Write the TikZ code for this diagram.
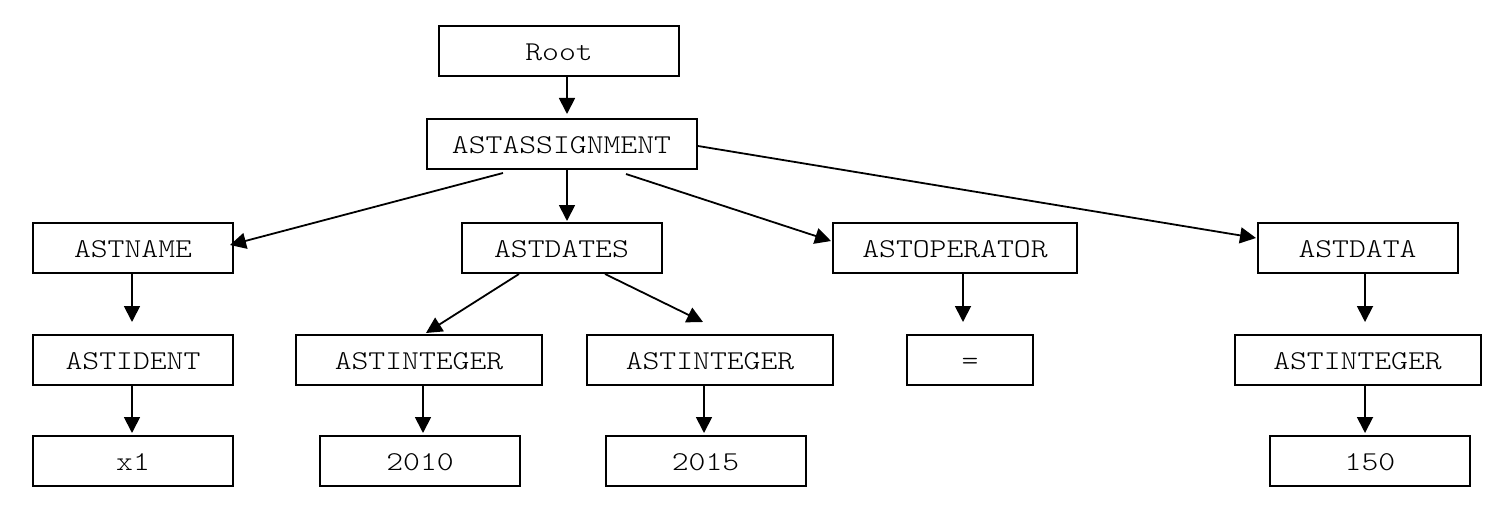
\documentclass[tikz,border=0pt]{standalone}
\usepackage{fontspec}
\newfontfamily\astfont[FakeStretch=1.18]{lmmonolt10-regular.otf}
\usetikzlibrary{arrows.meta,calc}
\begin{document}
\begin{tikzpicture}[x=0.5pt,y=-0.5pt,
    astbox/.style={draw,line width=1pt,minimum height=25pt,inner sep=0pt,
      text height=9.6pt,text depth=0pt,
      font=\astfont\fontsize{13.6}{16}\selectfont},
    edge/.style={line width=0.9pt,-{Triangle[length=8pt,width=8pt]}}]
    \useasboundingbox (0,0) rectangle (1504,524);

    % Upper levels
    \node[astbox,minimum width=120pt] (root) at (559,51) {Root};
    \node[astbox,minimum width=135pt] (assign) at (561.5,144) {ASTASSIGNMENT};
    \node[astbox,minimum width=100pt] (name) at (133,248) {ASTNAME};
    \node[astbox,minimum width=100pt] (dates) at (561.5,248) {ASTDATES};
    \node[astbox,minimum width=122pt] (oper) at (955,248) {ASTOPERATOR};
    \node[astbox,minimum width=100pt] (data) at (1357.5,248) {ASTDATA};

    % Lower levels
    \node[astbox,minimum width=100pt] (ident) at (133,360) {ASTIDENT};
    \node[astbox,minimum width=123pt] (int1) at (419,360) {ASTINTEGER};
    \node[astbox,minimum width=123pt] (int2) at (710,360) {ASTINTEGER};
    \node[astbox,minimum width=63pt] (eq) at (970,360) {=};
    \node[astbox,minimum width=123pt] (int3) at (1357.5,360) {ASTINTEGER};
    \node[astbox,minimum width=100pt] (x1) at (133,461) {x1};
    \node[astbox,minimum width=100pt] (y2010) at (420,461) {2010};
    \node[astbox,minimum width=100pt] (y2015) at (705.5,461) {2015};
    \node[astbox,minimum width=100pt] (y150) at (1370,461) {150};

    % Edges
    \draw[edge] ($(root.south)+(8,0)$) -- ($(assign.north)+(5.5,-4)$);
    \draw[edge] ($(assign.south)+(-58.5,3)$) -- ($(name.east)+(-4,-3)$);
    \draw[edge] ($(assign.south)+(5.5,0)$) -- ($(dates.north)+(5.5,-1)$);
    \draw[edge] ($(assign.south)+(64.5,4)$) -- ($(oper.west)+(-1,-7)$);
    \draw[edge] ($(assign.east)+(0.5,2)$) -- ($(data.west)+(-0.5,-10)$);
    \draw[edge] ($(name.south)+(-1,0)$) -- ($(ident.north)+(-1,-12)$);
    \draw[edge] ($(dates.south)+(-42.5,0)$) -- ($(int1.north)+(7,-1)$);
    \draw[edge] ($(dates.south)+(43.5,0)$) -- ($(int2.north)+(-7,-12)$);
    \draw[edge] ($(oper.south)+(8,0)$) -- ($(eq.north)+(-7,-12)$);
    \draw[edge] ($(data.south)+(7.5,0)$) -- ($(int3.north)+(7.5,-12)$);
    \draw[edge] ($(ident.south)+(-1,0)$) -- ($(x1.north)+(-1,-2)$);
    \draw[edge] ($(int1.south)+(4,0)$) -- ($(y2010.north)+(3,-2)$);
    \draw[edge] ($(int2.south)+(-6,0)$) -- ($(y2015.north)+(-1.5,-2)$);
    \draw[edge] ($(int3.south)+(7.5,0)$) -- ($(y150.north)+(-5,-2)$);
  \end{tikzpicture}
\end{document}
